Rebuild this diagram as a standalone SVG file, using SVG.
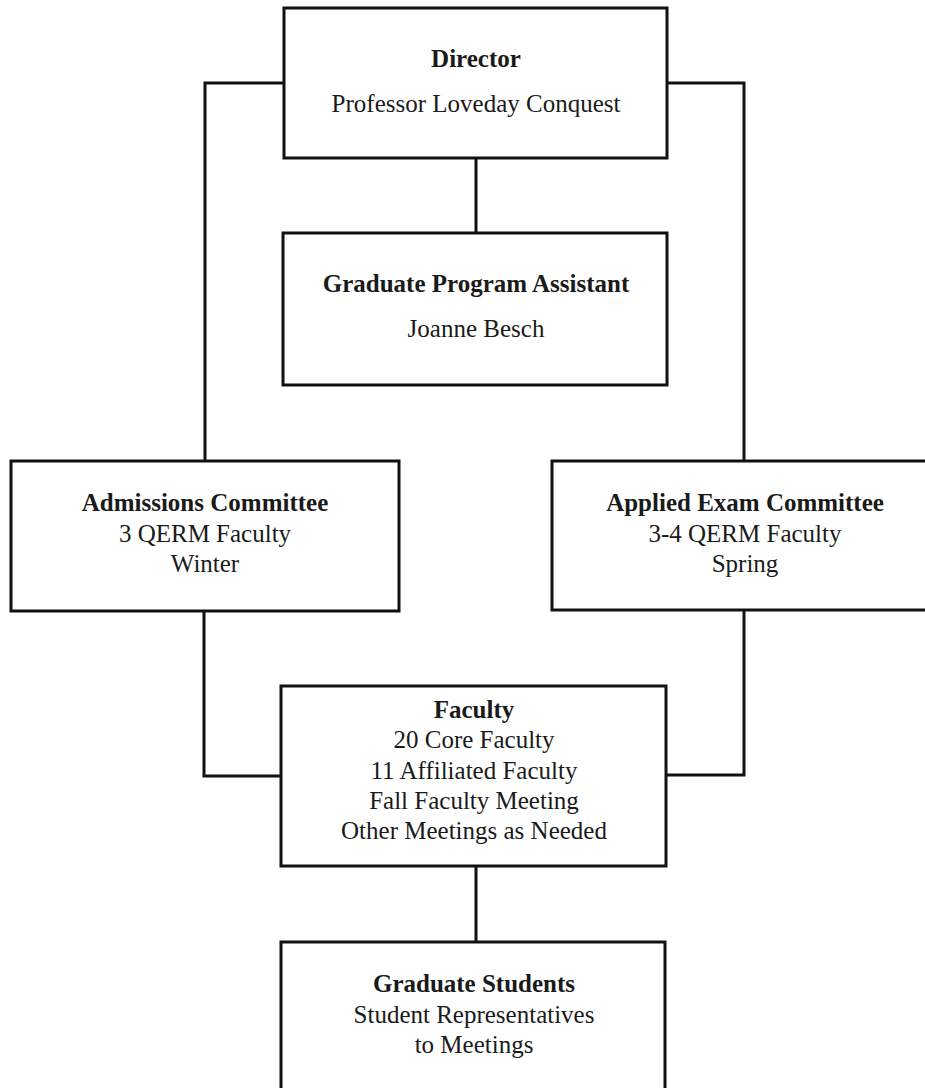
<svg xmlns="http://www.w3.org/2000/svg" width="925" height="1088" viewBox="0 0 925 1088">
<style>
.box{fill:#fff;stroke:#111;stroke-width:3}
.con{fill:none;stroke:#111;stroke-width:3}
text{font-family:"Liberation Serif","Times New Roman",serif;font-size:25px;fill:#1a1a1a;text-anchor:middle}
.b{font-weight:bold}
</style>
<rect width="925" height="1088" fill="#fff"/>
<g id="connectors">
<polyline class="con" points="284,83 205,83 205,461"/>
<polyline class="con" points="667,83 744,83 744,461"/>
<line class="con" x1="476" y1="158" x2="476" y2="233"/>
<polyline class="con" points="204,611 204,776 281,776"/>
<polyline class="con" points="744,610 744,775 666,775"/>
<line class="con" x1="476" y1="866" x2="476" y2="942"/>
</g>
<g id="director">
<rect class="box" x="284" y="8" width="383" height="150"/>
<text class="b" x="476" y="67">Director</text>
<text x="476" y="112">Professor Loveday Conquest</text>
</g>
<g id="assistant">
<rect class="box" x="283" y="233" width="384" height="152"/>
<text class="b" x="476" y="292">Graduate Program Assistant</text>
<text x="476" y="337">Joanne Besch</text>
</g>
<g id="admissions">
<rect class="box" x="11" y="461" width="388" height="150"/>
<text class="b" x="205" y="511">Admissions Committee</text>
<text x="205" y="542">3 QERM Faculty</text>
<text x="205" y="572">Winter</text>
</g>
<g id="applied">
<rect class="box" x="552" y="461" width="390" height="149"/>
<text class="b" x="745" y="511">Applied Exam Committee</text>
<text x="745" y="542">3-4 QERM Faculty</text>
<text x="745" y="572">Spring</text>
</g>
<g id="faculty">
<rect class="box" x="281" y="686" width="385" height="180"/>
<text class="b" x="474" y="718">Faculty</text>
<text x="474" y="748">20 Core Faculty</text>
<text x="474" y="779">11 Affiliated Faculty</text>
<text x="474" y="809">Fall Faculty Meeting</text>
<text x="474" y="839">Other Meetings as Needed</text>
</g>
<g id="students">
<rect class="box" x="281" y="942" width="384" height="170"/>
<text class="b" x="474" y="992">Graduate Students</text>
<text x="474" y="1023">Student Representatives</text>
<text x="474" y="1053">to Meetings</text>
</g>
</svg>
